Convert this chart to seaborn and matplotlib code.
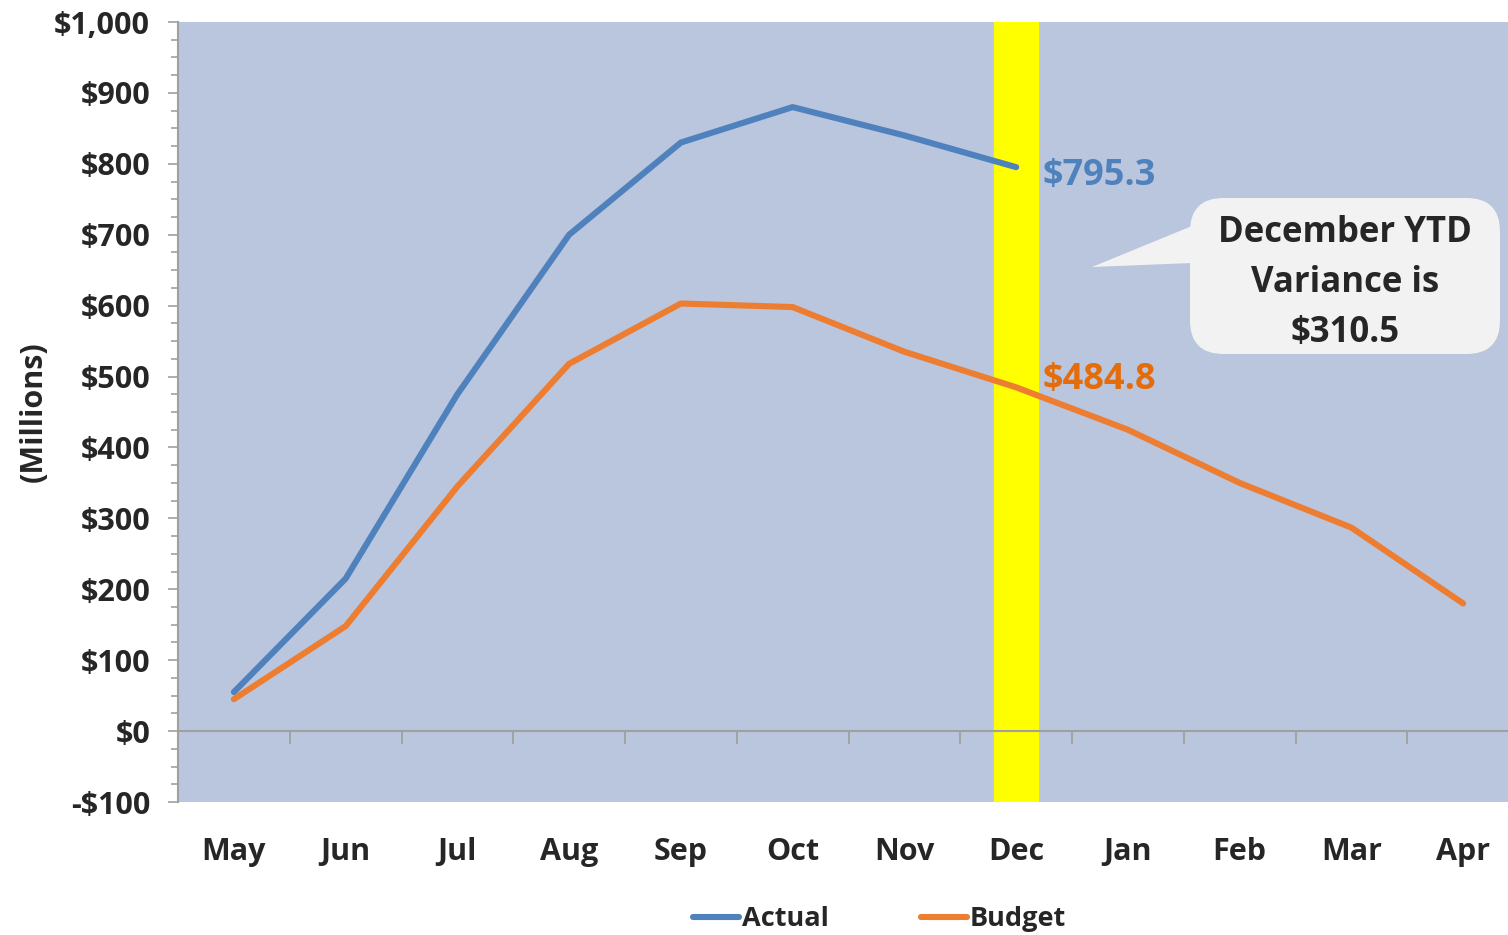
import numpy as np
import pandas as pd
import matplotlib
matplotlib.use('Agg')
import matplotlib.pyplot as plt
import seaborn as sns
from matplotlib.patches import FancyBboxPatch, Polygon
from matplotlib.lines import Line2D
from matplotlib.ticker import MultipleLocator, FuncFormatter

# ---- data ----
months = ['May', 'Jun', 'Jul', 'Aug', 'Sep', 'Oct', 'Nov', 'Dec', 'Jan', 'Feb', 'Mar', 'Apr']
actual = [55, 215, 475, 700, 830, 880, 840, 795.3]
budget = [45, 148, 345, 518, 603, 598, 535, 484.8, 425, 350, 287, 180]
highlight_month = 'Dec'
variance_text = 'December YTD\nVariance is\n$310.5'

BLUE = '#4F81BD'
ORANGE = '#ED7D31'
ORANGE_TXT = '#E46C0A'
BG = '#BAC6DE'
GRID = '#A0A0A0'

df = pd.concat([
    pd.DataFrame({'month': months[:len(actual)], 'value': actual, 'series': 'Actual'}),
    pd.DataFrame({'month': months, 'value': budget, 'series': 'Budget'}),
])

sns.set_theme(style='white')
plt.rcParams['font.family'] = ['Open Sans', 'DejaVu Sans']
plt.rcParams['font.weight'] = 'bold'

W, H = 1508, 935
AX_L, AX_R, AX_T, AX_B = 178, 1519, 22, 802

fig = plt.figure(figsize=(W / 100, H / 100), dpi=100)
ax = fig.add_axes([AX_L / W, 1 - AX_B / H, (AX_R - AX_L) / W, (AX_B - AX_T) / H])
ax.set_facecolor(BG)

# yellow highlight band behind Dec
hx = months.index(highlight_month)
ax.axvspan(hx - 0.2, hx + 0.2, color='#FFFF00', zorder=1)

sns.lineplot(data=df, x='month', y='value', hue='series', palette={'Actual': BLUE, 'Budget': ORANGE},
             linewidth=4.4, sort=False, ax=ax, legend=False, zorder=3,
             solid_capstyle='round')

ax.set_xlim(-0.5, len(months) - 0.5)
ax.set_ylim(-100, 1000)

# spines
for s in ['top', 'right']:
    ax.spines[s].set_visible(False)
ax.spines['left'].set_color(GRID)
ax.spines['left'].set_linewidth(1.5)
ax.spines['bottom'].set_position(('data', 0))
ax.spines['bottom'].set_color(GRID)
ax.spines['bottom'].set_linewidth(1.5)
ax.spines['bottom'].set_zorder(2)

# x: boundary tick marks on zero line, labels well below
ax.set_xticks(np.arange(len(months) - 1) + 0.5)
ax.set_xticklabels([])
ax.set_xticks(np.arange(len(months)), minor=True)
ax.set_xticklabels(months, minor=True)
ax.tick_params(axis='x', which='major', direction='out', length=9, width=1.3, color=GRID, bottom=True)
ax.tick_params(axis='x', which='minor', length=0, pad=76, labelsize=22)

# y ticks
ax.yaxis.set_major_locator(MultipleLocator(100))
ax.yaxis.set_minor_locator(MultipleLocator(25))
ax.yaxis.set_major_formatter(FuncFormatter(lambda v, p: ('-$' if v < 0 else '$') + f'{abs(v):,.0f}'))
ax.tick_params(axis='y', which='major', direction='out', length=7, width=1.2, color=GRID, left=True, pad=13,
               labelsize=22)
ax.tick_params(axis='y', which='minor', direction='out', length=5, width=1.2, color=GRID, left=True)
for lab in ax.get_xticklabels(minor=True) + ax.get_yticklabels():
    lab.set_fontweight('bold')

ax.set_xlabel('')
ax.set_ylabel('(Millions)', fontsize=22, fontweight='bold', labelpad=4)

# end-of-line value labels
ax.text(hx + 0.24, actual[-1] - 12, f'${actual[-1]:.1f}', color=BLUE, fontsize=26, fontweight='bold',
        va='center', ha='left', zorder=4)
ax.text(hx + 0.24, budget[hx] + 10, f'${budget[hx]:.1f}', color=ORANGE_TXT, fontsize=26, fontweight='bold',
        va='center', ha='left', zorder=4)

# callout box
def px(x, y):
    return ((x - AX_L) / (AX_R - AX_L), (AX_B - y) / (AX_B - AX_T))

x0, y0 = px(1190, 354)
x1, y1 = px(1500, 198)
box = FancyBboxPatch((x0, y0), x1 - x0, y1 - y0, boxstyle='round,pad=0,rounding_size=0.025',
                     transform=ax.transAxes, facecolor='#F2F2F2', edgecolor='none', zorder=5,
                     mutation_aspect=((AX_R - AX_L) / (AX_B - AX_T)))
ax.add_patch(box)
tri = Polygon([px(1192, 226), px(1092, 267), px(1192, 263)], closed=True, transform=ax.transAxes,
              facecolor='#F2F2F2', edgecolor='none', zorder=5)
ax.add_patch(tri)
cx, cy = px(1345, 283)
ax.text(cx, cy, variance_text, transform=ax.transAxes, ha='center', va='center', fontsize=25,
        fontweight='bold', linespacing=1.5, zorder=6)

# legend
handles = [Line2D([], [], color=BLUE, lw=4.4, solid_capstyle='round'),
           Line2D([], [], color=ORANGE, lw=4.4, solid_capstyle='round')]
fig.legend(handles, ['Actual', 'Budget'], loc='center', bbox_to_anchor=(0.583, 1 - 919 / H), ncol=2,
           frameon=False, handlelength=1.7, handletextpad=0.1, columnspacing=3.4,
           prop={'weight': 'bold', 'size': 19.5})

fig.savefig('out.png', dpi=100)
